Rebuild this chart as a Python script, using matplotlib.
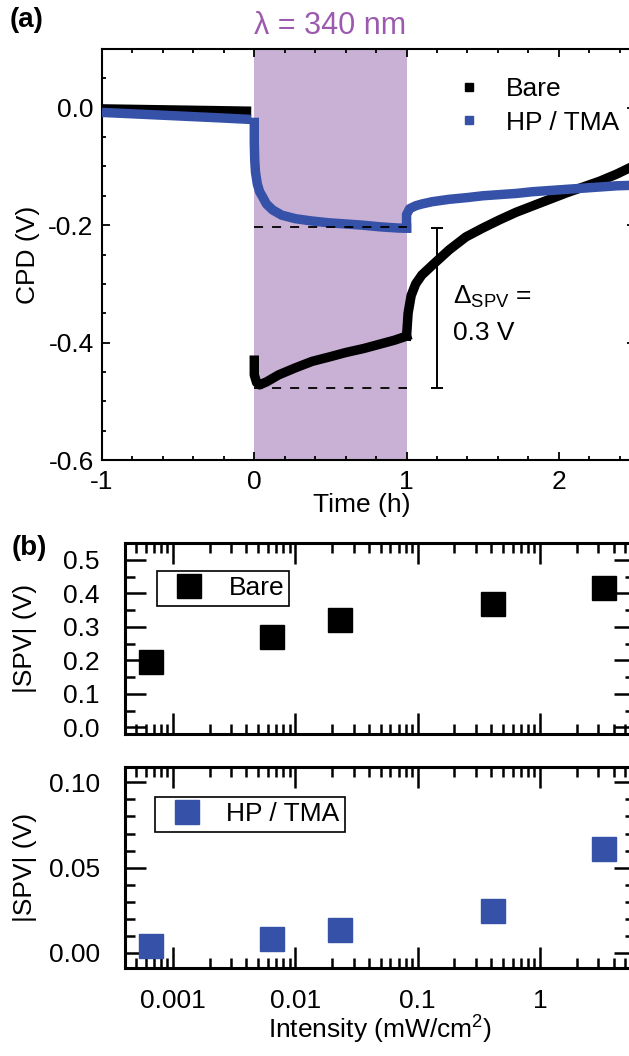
import numpy as np
import matplotlib
matplotlib.use("Agg")
import matplotlib.pyplot as plt
from matplotlib.lines import Line2D
from matplotlib.ticker import FixedLocator, FixedFormatter, MultipleLocator, LogLocator, NullFormatter

plt.rcParams['font.family'] = ['Liberation Sans', 'DejaVu Sans']
plt.rcParams['axes.unicode_minus'] = False
plt.rcParams['mathtext.default'] = 'regular'

# ---------------- data: panel (a) ----------------
bare_dark_t = [-1.0, -0.75, -0.5, -0.25, -0.02]
bare_dark_v = [-0.002, -0.003, -0.004, -0.005, -0.006]
bare_jump_t = [0.0]
bare_jump_v = [-0.046]
bare_on_t = [0.0, 0.0, 0.015, 0.035, 0.08, 0.16, 0.27, 0.38, 0.5, 0.6, 0.72, 0.82, 0.92, 1.0]
bare_on_v = [-0.43, -0.455, -0.468, -0.472, -0.467, -0.455, -0.443, -0.432, -0.424, -0.417, -0.410, -0.403, -0.396, -0.389]
bare_off_t = [1.0, 1.01, 1.03, 1.06, 1.1, 1.17, 1.28, 1.39, 1.5, 1.61, 1.72, 1.83, 1.94, 2.05, 2.16, 2.27, 2.38, 2.5]
bare_off_v = [-0.389, -0.35, -0.32, -0.3, -0.285, -0.268, -0.242, -0.22, -0.205, -0.191, -0.178, -0.167, -0.156, -0.145, -0.135, -0.125, -0.113, -0.098]

hp_dark_t = [-1.0, -0.75, -0.5, -0.25, -0.02]
hp_dark_v = [-0.008, -0.011, -0.014, -0.017, -0.020]
hp_on_t = [0.0, 0.0, 0.003, 0.008, 0.02, 0.035, 0.055, 0.08, 0.12, 0.18, 0.27, 0.38, 0.49, 0.6, 0.71, 0.83, 0.95, 1.0]
hp_on_v = [-0.025, -0.06, -0.09, -0.11, -0.13, -0.143, -0.152, -0.164, -0.174, -0.183, -0.189, -0.193, -0.196, -0.198, -0.2, -0.203, -0.205, -0.205]
hp_off_t = [1.0, 1.0, 1.02, 1.06, 1.1, 1.17, 1.28, 1.4, 1.5, 1.61, 1.72, 1.83, 1.94, 2.05, 2.16, 2.27, 2.38, 2.5]
hp_off_v = [-0.205, -0.182, -0.172, -0.167, -0.164, -0.16, -0.156, -0.153, -0.15, -0.148, -0.146, -0.143, -0.141, -0.139, -0.137, -0.135, -0.133, -0.132]

illum_start, illum_end = 0.0, 1.0
level_hp = -0.204
level_bare = -0.477
spv_bar_t = 1.2
spv_bar_top, spv_bar_bottom = -0.205, -0.478

# ---------------- data: panel (b) ----------------
intensity = [6.7e-4, 6.5e-3, 0.0232, 0.413, 3.34]
spv_bare = [0.195, 0.27, 0.32, 0.368, 0.416]
spv_hp = [0.0041, 0.0082, 0.0135, 0.0247, 0.061]
int_ticks = [0.001, 0.01, 0.1, 1]
int_ticklabels = ['0.001', '0.01', '0.1', '1']

BLACK = '#000000'
BLUE = '#3651A8'
PURPLE_FILL = '#C9B0D5'
PURPLE_TEXT = '#9C5AAE'
FS = 19

W, H = 629, 1056
fig = plt.figure(figsize=(W / 100, H / 100), dpi=100)

def frac(left, top, right, bottom):
    return [left / W, 1 - bottom / H, (right - left) / W, (bottom - top) / H]

# ---------------- panel (a) ----------------
ax = fig.add_axes(frac(102, 49, 635, 460))
ax.axvspan(illum_start, illum_end, color=PURPLE_FILL, lw=0, zorder=0)
lw = 6.8
ax.plot(bare_dark_t, bare_dark_v, color=BLACK, lw=lw, solid_capstyle='butt', zorder=3)
ax.plot(bare_jump_t, bare_jump_v, 's', color=BLACK, ms=5, zorder=3)
ax.plot(bare_on_t, bare_on_v, color=BLACK, lw=lw, solid_joinstyle='round', zorder=3)
ax.plot(bare_off_t, bare_off_v, color=BLACK, lw=lw, solid_joinstyle='round', zorder=3)
ax.plot(hp_dark_t, hp_dark_v, color=BLUE, lw=lw, solid_capstyle='butt', zorder=4)
ax.plot(hp_on_t, hp_on_v, color=BLUE, lw=lw, solid_joinstyle='round', zorder=4)
ax.plot(hp_off_t, hp_off_v, color=BLUE, lw=lw, solid_joinstyle='round', zorder=4)

ax.plot([illum_start, illum_end], [level_hp, level_hp], color=BLACK, lw=1.3, ls=(0, (5, 5)), zorder=5)
ax.plot([illum_start, illum_end], [level_bare, level_bare], color=BLACK, lw=1.3, ls=(0, (5, 5)), zorder=2)
ax.errorbar([spv_bar_t], [(spv_bar_top + spv_bar_bottom) / 2], yerr=[(spv_bar_top - spv_bar_bottom) / 2],
            color=BLACK, lw=1.4, capsize=4, capthick=1.4, zorder=5)
ax.text(1.305, -0.322, r'$\Delta_{SPV}$ =', fontsize=FS, va='center', ha='left')
ax.text(1.305, -0.383, '0.3 V', fontsize=FS, va='center', ha='left')

ax.set_xlim(-1, 2.5)
ax.set_ylim(-0.6, 0.1)
ax.xaxis.set_major_locator(MultipleLocator(1))
ax.xaxis.set_minor_locator(MultipleLocator(0.2))
ax.yaxis.set_major_locator(FixedLocator([-0.6, -0.4, -0.2, 0.0]))
ax.yaxis.set_major_formatter(FixedFormatter(['-0.6', '-0.4', '-0.2', '0.0']))
ax.yaxis.set_minor_locator(MultipleLocator(0.05))
ax.tick_params(which='both', direction='in', top=True, right=True, labelsize=FS, width=1.3)
ax.tick_params(which='major', length=5.5)
ax.tick_params(which='minor', length=3)
ax.tick_params(axis='y', pad=6)
ax.tick_params(axis='x', pad=7)
for s in ax.spines.values():
    s.set_linewidth(1.5)
ax.set_xlabel('Time (h)', fontsize=FS, va='center')
ax.xaxis.set_label_coords(0.488, -0.109)
ax.set_ylabel('CPD (V)', fontsize=FS, va='center')
ax.yaxis.set_label_coords(-0.139, 0.5)
ax.set_title('λ = 340 nm', color=PURPLE_TEXT, fontsize=22, x=(0.5 + 1) / 3.5, pad=11)

h1 = Line2D([], [], color=BLACK, marker='s', ls='none', ms=5.5)
h2 = Line2D([], [], color=BLUE, marker='s', ls='none', ms=5.5)
ax.legend([h1, h2], ['Bare', 'HP / TMA'], loc='upper left', bbox_to_anchor=(0.664, 0.932),
          frameon=False, fontsize=FS, handletextpad=0.9, labelspacing=0.37, handlelength=1.0,
          borderpad=0, borderaxespad=0)

fig.text(10 / W, 1 - 20 / H, '(a)', fontsize=20, fontweight='bold', va='center', ha='left')

# ---------------- panel (b) ----------------
def style_b(axb, ylim, major, minor, labels):
    axb.set_xscale('log')
    axb.set_xlim(10 ** -3.39, 10 ** 0.777)
    axb.set_ylim(*ylim)
    axb.xaxis.set_major_locator(FixedLocator(int_ticks))
    axb.xaxis.set_major_formatter(FixedFormatter(int_ticklabels))
    axb.xaxis.set_minor_locator(LogLocator(base=10, subs=np.arange(2, 10), numticks=20))
    axb.xaxis.set_minor_formatter(NullFormatter())
    axb.yaxis.set_major_locator(FixedLocator(major))
    axb.yaxis.set_major_formatter(FixedFormatter(labels))
    axb.yaxis.set_minor_locator(MultipleLocator(minor))
    axb.tick_params(which='both', direction='in', top=True, right=True, labelsize=FS, width=1.8)
    axb.tick_params(which='major', length=15)
    axb.tick_params(which='minor', length=7)
    axb.tick_params(axis='y', pad=18)
    axb.tick_params(axis='x', pad=15)
    for s in axb.spines.values():
        s.set_linewidth(2.2)

ax1 = fig.add_axes(frac(125, 543, 635, 734))
ax1.plot(intensity, spv_bare, 's', color=BLACK, ms=17, label='Bare')
style_b(ax1, (-0.02, 0.55), [0.0, 0.1, 0.2, 0.3, 0.4, 0.5], 0.05,
        ['0.0', '0.1', '0.2', '0.3', '0.4', '0.5'])
ax1.tick_params(labelbottom=False)
ax1.set_ylabel('|SPV| (V)', fontsize=FS, va='center')
ax1.yaxis.set_label_coords(-0.196, 0.5)
leg1 = ax1.legend(loc='upper left', bbox_to_anchor=(0.063, 0.853), fontsize=FS, fancybox=False,
                  edgecolor='black', framealpha=1, borderpad=0.2, borderaxespad=0,
                  handlelength=2.0, handletextpad=0.5)
leg1.get_frame().set_linewidth(1.2)

ax2 = fig.add_axes(frac(125, 767, 635, 968))
ax2.plot(intensity, spv_hp, 's', color=BLUE, ms=17, label='HP / TMA')
style_b(ax2, (-0.0088, 0.109), [0.0, 0.05, 0.10], 0.01, ['0.00', '0.05', '0.10'])
ax2.set_ylabel('|SPV| (V)', fontsize=FS, va='center')
ax2.yaxis.set_label_coords(-0.196, 0.5)
ax2.set_xlabel('Intensity (mW/cm$^2$)', fontsize=FS, va='center')
ax2.xaxis.set_label_coords(0.5, -0.308)
leg2 = ax2.legend(loc='upper left', bbox_to_anchor=(0.059, 0.851), fontsize=FS, fancybox=False,
                  edgecolor='black', framealpha=1, borderpad=0.2, borderaxespad=0,
                  handlelength=2.0, handletextpad=0.5)
leg2.get_frame().set_linewidth(1.2)

fig.text(12 / W, 1 - 548 / H, '(b)', fontsize=20, fontweight='bold', va='center', ha='left')

fig.savefig('out.png', dpi=100)
